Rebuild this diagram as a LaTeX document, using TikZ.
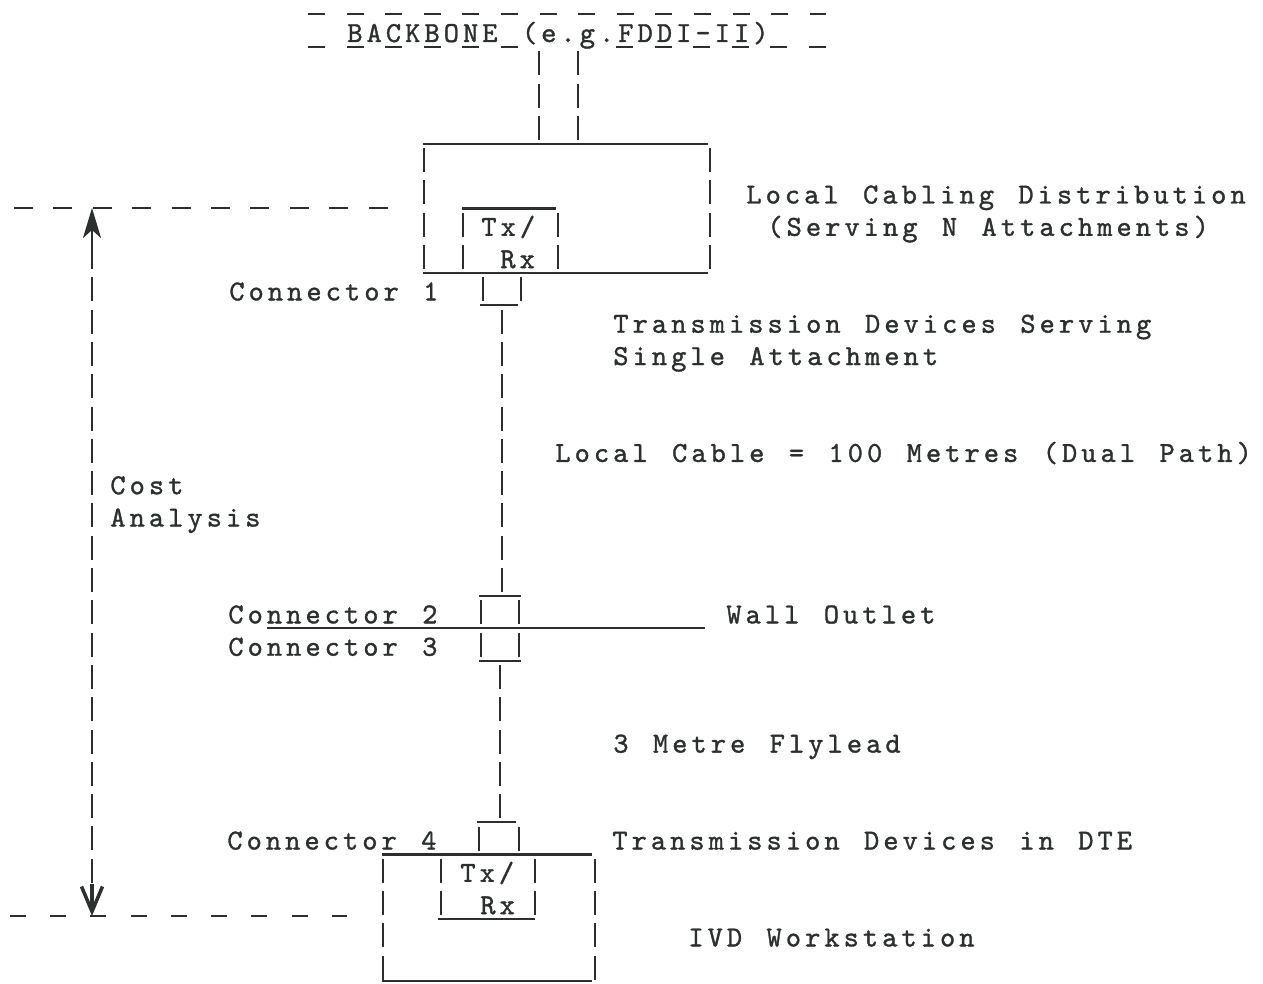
\documentclass[tikz,border=0pt]{standalone}
\usepackage{fontspec}
\usepackage{tikz}
\usetikzlibrary{arrows.meta}
\definecolor{ink}{HTML}{2B302E}
\newfontfamily\typerfont{lmmono10-regular}[Extension=.otf, LetterSpace=14, WordSpace={1.267,0,0}, FakeBold=1.2]
\newcommand{\typer}{\typerfont\fontsize{16.5}{16.5}\selectfont}
\tikzset{
  lbl/.style={anchor=base west, inner sep=0pt, text=ink, font=\typer},
  rule/.style={draw=ink, line width=1.2pt},
  bars/.style={draw=ink, line width=1.4pt, dash pattern=on 0.48cm off 0.166cm},
  overdash/.style={rule, dash pattern=on 0.34cm off 0.432cm},
  costdash/.style={rule, dash pattern=on 0.38cm off 0.408cm},
  costtip/.style={draw=ink, line width=1.4pt, -{Stealth[length=0.6cm, width=0.36cm, inset=0.16cm]}},
  costbarb/.style={draw=ink, line width=2pt, -{Straight Barb[length=0.5cm, width=0.42cm]}},
}

\begin{document}
\begin{tikzpicture}[x=0.02cm, y=-0.02cm]
  \useasboundingbox (0,0) rectangle (1263,983);
  % backbone
  \node (backbone) [lbl] at (347,42) {BACKBONE (e.g.FDDI-II)};
  \draw[overdash] (308,14) -- (826,14);
  \draw[overdash] (308,47) -- (519,47);
  \draw[overdash] (616,47) -- (826,47);
  \draw[bars] (539,51.3) -- (539,139.9);
  \draw[bars] (578,51.3) -- (578,139.9);
  % local cabling distribution
  \draw[rule] (423,143.9) -- (708,143.9);
  \draw[rule] (423,273.1) -- (708,273.1);
  \draw[bars] (424,148.2) -- (424,269.1);
  \draw[bars] (710,148.2) -- (710,269.1);
  \draw[rule] (462,208.5) -- (556,208.5);
  \draw[bars] (463,212.8) -- (463,269.1);
  \draw[bars] (558,212.8) -- (558,269.1);
  \node (txa) [lbl] at (481,235.8) {Tx/};
  \node (rxa) [lbl] at (500,268.1) {Rx};
  \node (hub) [lbl] at (746,203.5) {Local Cabling Distribution};
  \node (hubn) [lbl] at (767,235.8) {(Serving N Attachments)};
  % connector 1 and local cable
  \draw[bars] (483,277.4) -- (483,301.4);
  \draw[bars] (521,277.4) -- (521,301.4);
  \draw[rule] (480,305.4) -- (518,305.4);
  \node (con1) [lbl] at (229,300.4) {Connector 1};
  \draw[bars] (502,309.7) -- (502,592.1);
  \node (tds) [lbl] at (613,332.7) {Transmission Devices Serving};
  \node (tdsb) [lbl] at (613,365) {Single Attachment};
  \node (cable) [lbl] at (555,461.9) {Local Cable = 100 Metres (Dual Path)};
  % wall outlet, connectors 2 and 3
  \draw[rule] (479,596.1) -- (521,596.1);
  \draw[bars] (481,600.4) -- (481,624.4);
  \draw[bars] (519,600.4) -- (519,624.4);
  \draw[rule] (267,628.4) -- (705,628.4);
  \draw[bars] (481,632.7) -- (481,656.7);
  \draw[bars] (519,632.7) -- (519,656.7);
  \draw[rule] (479,660.7) -- (521,660.7);
  \node (con2) [lbl] at (228,623.4) {Connector 2};
  \node (con3) [lbl] at (228,655.7) {Connector 3};
  \node (wall) [lbl] at (726,623.4) {Wall Outlet};
  % flylead and connector 4
  \draw[bars] (500,665) -- (500,818.2);
  \node (fly) [lbl] at (613,752.6) {3 Metre Flylead};
  \draw[rule] (477,822.2) -- (516,822.2);
  \draw[bars] (479,826.5) -- (479,850.5);
  \draw[bars] (519,826.5) -- (519,850.5);
  \node (con4) [lbl] at (227,849.5) {Connector 4};
  \node (dte) [lbl] at (612,849.5) {Transmission Devices in DTE};
  % IVD workstation
  \draw[rule] (382,854.5) -- (592,854.5);
  \draw[bars] (383,858.8) -- (383,979.7);
  \draw[bars] (595,858.8) -- (595,979.7);
  \draw[rule] (382,981) -- (592,981);
  \draw[bars] (441,858.8) -- (441,915.1);
  \draw[bars] (535,858.8) -- (535,915.1);
  \draw[rule] (438,919.1) -- (535,919.1);
  \node (txb) [lbl] at (460,881.8) {Tx/};
  \node (rxb) [lbl] at (480,914.1) {Rx};
  \node (ivd) [lbl] at (688,946.4) {IVD Workstation};
  % cost analysis span
  \coordinate (costtop) at (92,208);
  \coordinate (costbot) at (92,916);
  \draw[costdash] (14,208) -- (390,208);
  \draw[rule, dash pattern=on 0.32cm off 0.485cm] (10,916) -- (347,916);
  \draw[bars] (92,245.1) -- (92,882.8);
  \draw[costtip] (92,246) -- (costtop);
  \draw[costbarb] (92,884) -- (costbot);
  \node (cost) [lbl] at (110,494.2) {Cost};
  \node (costb) [lbl] at (110,526.5) {Analysis};
\end{tikzpicture}
\end{document}
